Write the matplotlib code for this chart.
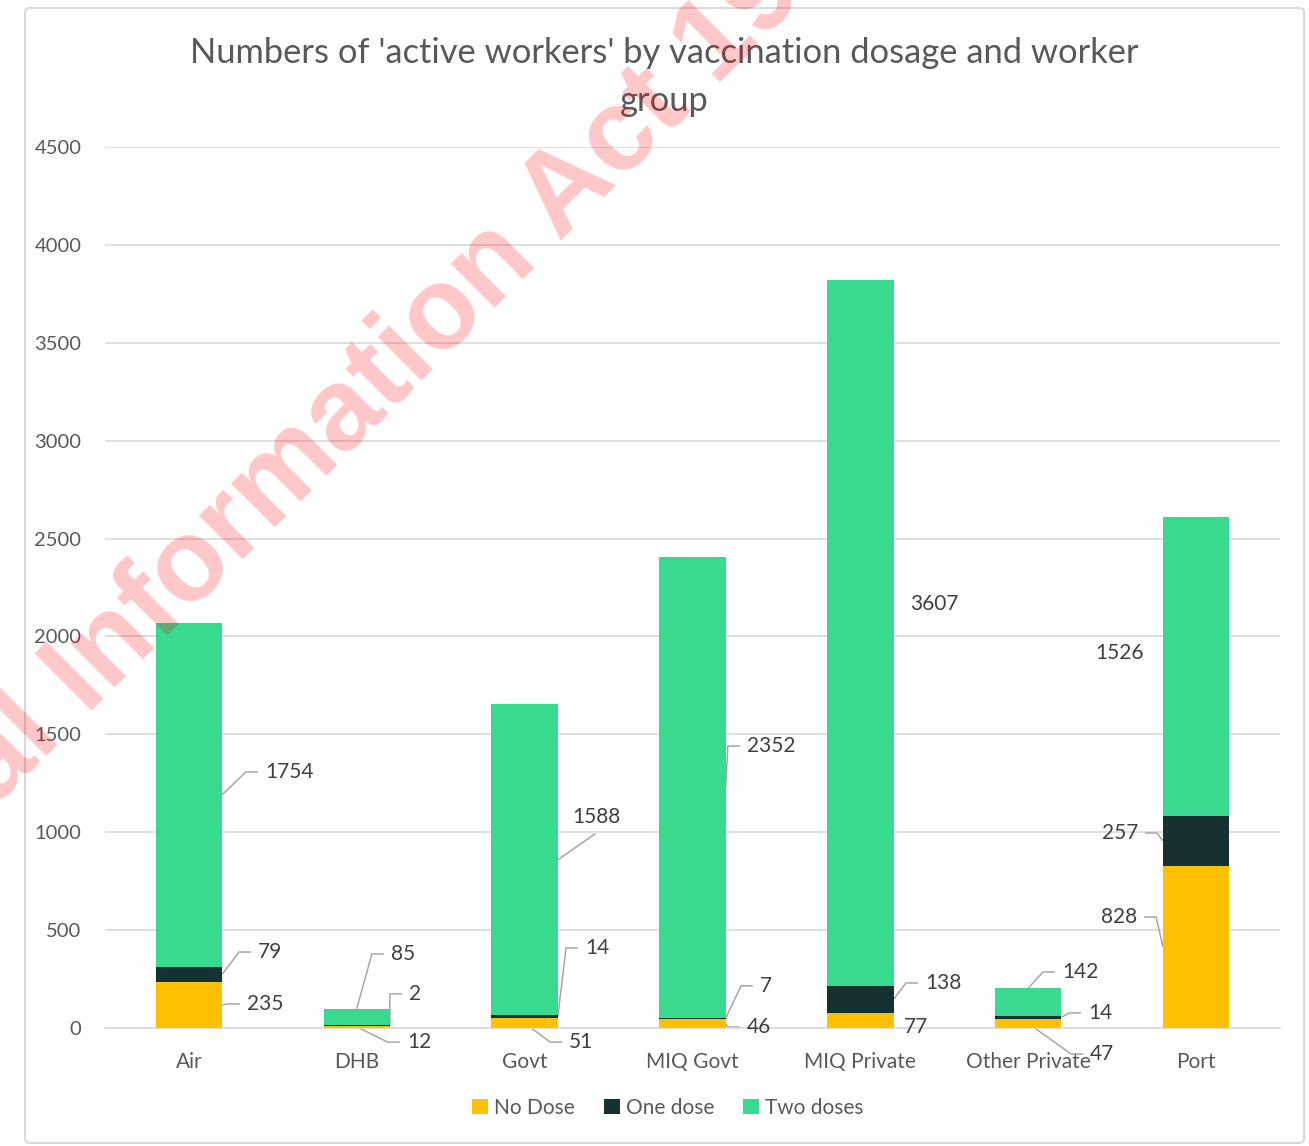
import matplotlib
matplotlib.use("Agg")
import matplotlib.pyplot as plt
from matplotlib.patches import Patch, FancyBboxPatch
from matplotlib.textpath import TextToPath
from matplotlib.font_manager import FontProperties
import numpy as np

# ---------------- data ----------------
categories = ["Air", "DHB", "Govt", "MIQ Govt", "MIQ Private", "Other Private", "Port"]
series_names = ["No Dose", "One dose", "Two doses"]
no_dose = [235, 12, 51, 46, 77, 47, 828]
one_dose = [79, 2, 14, 7, 138, 14, 257]
two_doses = [1754, 85, 1588, 2352, 3607, 142, 1526]
y_ticks = [0, 500, 1000, 1500, 2000, 2500, 3000, 3500, 4000, 4500]
title = "Numbers of 'active workers' by vaccination dosage and worker\ngroup"
watermark = "Released under the Official Information Act 1982"

# ---------------- style ----------------
colors = ["#FFC000", "#163131", "#38DA8F"]
FONT = ["Lato", "DejaVu Sans"]
plt.rcParams["font.family"] = FONT
W, H, DPI = 1309, 1146, 100

fig = plt.figure(figsize=(W / DPI, H / DPI), dpi=DPI)
fig.patch.set_facecolor("white")

# chart border
border = FancyBboxPatch((25 / W, 1 - 1143 / H), (1304 - 25) / W, (1143 - 8) / H,
                        boxstyle="round,pad=0,rounding_size=0.004",
                        transform=fig.transFigure, fc="none", ec="#D9D9D9", lw=1.5,
                        zorder=-1)
fig.patches.append(border)

ax_left, ax_right = 105 / W, 1280 / W
ax_bottom, ax_top = 1 - 1028 / H, 1 - 147 / H
ax = fig.add_axes([ax_left, ax_bottom, ax_right - ax_left, ax_top - ax_bottom])
ax.set_facecolor("none")

x = np.arange(len(categories))
bar_w = 0.395
series = [no_dose, one_dose, two_doses]
bottoms = np.zeros(len(categories))
bar_bottoms = []
for vals, col, name in zip(series, colors, series_names):
    ax.bar(x, vals, bar_w, bottom=bottoms, color=col, label=name, zorder=3, linewidth=0)
    bar_bottoms.append(bottoms.copy())
    bottoms = bottoms + np.array(vals)

ax.set_xlim(-0.5, len(categories) - 0.5)
ax.set_ylim(0, 4500)
ax.set_yticks(y_ticks)
ax.set_yticklabels([str(t) for t in y_ticks])
ax.set_xticks(x)
ax.set_xticklabels(categories)
ax.yaxis.grid(True, color="#D9D9D9", lw=1.2, zorder=0)
ax.set_axisbelow(True)
for s in ["left", "right", "top"]:
    ax.spines[s].set_visible(False)
ax.spines["bottom"].set_color("#D9D9D9")
ax.spines["bottom"].set_linewidth(1.2)
ax.tick_params(axis="y", length=0, pad=17, labelsize=14.5, labelcolor="#595959")
ax.tick_params(axis="x", length=0, pad=17, labelsize=15, labelcolor="#595959")

# ---------------- data labels with leader lines ----------------
# (series index, category index, text x offset from bar centre, text y value, ha, anchor kind)
label_layout = [
    (2, 0, 0.453, 1308, "left", "right"),
    (1, 0, 0.412, 388, "left", "right"),
    (0, 0, 0.346, 123, "left", "right"),
    (2, 1, 0.203, 378, "left", "top"),
    (1, 1, 0.310, 174, "left", "right"),
    (0, 1, 0.298, -72, "left", "center"),
    (2, 2, 0.282, 1078, "left", "under"),
    (1, 2, 0.360, 409, "left", "right"),
    (0, 2, 0.265, -72, "left", "center"),
    (2, 3, 0.324, 1440, "left", "right"),
    (1, 3, 0.402, 215, "left", "right"),
    (0, 3, 0.324, 5, "left", "right"),
    (2, 4, 0.295, 2166, "left", "none"),
    (1, 4, 0.385, 230, "left", "right"),
    (0, 4, 0.260, 5, "left", "none"),
    (2, 5, 0.201, 286, "left", "top"),
    (1, 5, 0.357, 77, "left", "right"),
    (0, 5, 0.369, -133, "left", "center"),
    (2, 6, -0.310, 1915, "right", "none"),
    (1, 6, -0.346, 996, "right", "left"),
    (0, 6, -0.351, 567, "right", "left"),
]
px_per_x = (ax_right - ax_left) * W / len(categories)
gap = 7 / px_per_x
seg = 19 / px_per_x
for si, ci, dx, ty, ha, kind in label_layout:
    v = series[si][ci]
    b = bar_bottoms[si][ci]
    xc = x[ci]
    tx = xc + dx
    ax.text(tx, ty, str(v), ha=ha, va="center", fontsize=15, color="#404040", zorder=5,
            clip_on=False)
    if kind == "none":
        continue
    if kind == "right":
        p0 = (xc + bar_w / 2, b + v / 2)
    elif kind == "left":
        p0 = (xc - bar_w / 2, b + v / 2)
    elif kind == "top":
        p0 = (xc, b + v)
    elif kind == "center":
        p0 = (xc, b + v / 2)
    elif kind == "under":
        p0 = (xc + bar_w / 2, b + v / 2)
    sgn = 1 if ha == "left" else -1
    if kind == "under":
        pts = [p0, (tx + 0.14, ty - 85)]
    else:
        pts = [p0, (tx - sgn * seg, ty), (tx - sgn * gap, ty)]
    xs, ys = zip(*pts)
    ax.plot(xs, ys, color="#A6A6A6", lw=1.1, zorder=2, clip_on=False,
            solid_capstyle="butt")

# ---------------- title & legend ----------------
fig.text(664 / W, 1 - 77 / H, title, ha="center", va="center", fontsize=24.8,
         color="#595959", linespacing=1.6)

handles = [Patch(facecolor=c, edgecolor="none") for c in colors]
fig.legend(handles, series_names, loc="center", bbox_to_anchor=(668 / W, 1 - 1108 / H),
           ncol=3, frameon=False, fontsize=15, handlelength=0.75, handleheight=0.75,
           handletextpad=0.3, columnspacing=1.4, labelcolor="#595959")

# ---------------- watermark ----------------
wm_size = 84
wm_fp = FontProperties(family="Liberation Sans", weight="bold", size=wm_size)
ttp = TextToPath()
w_pref = ttp.get_text_width_height_descent("Released under the Official I", wm_fp, ismath=False)[0]
w_I = ttp.get_text_width_height_descent("I", wm_fp, ismath=False)[0]
pref_px = (w_pref - w_I) * DPI / 72.0
ang = np.deg2rad(45)
ix, iy = 88, 715  # start of "Information" on the baseline, in image pixels
sx = ix - pref_px * np.cos(ang)
sy = iy + pref_px * np.sin(ang)
fig.text(sx / W, 1 - sy / H, watermark, rotation=45, rotation_mode="anchor",
         ha="left", va="baseline", fontproperties=wm_fp,
         color="#FF0000", alpha=0.22, zorder=10)

fig.savefig("out.png", dpi=DPI, facecolor="white")
